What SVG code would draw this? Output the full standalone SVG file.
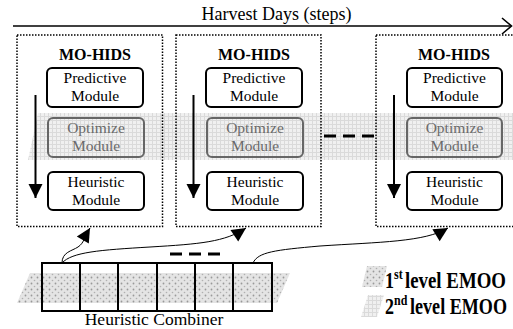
<svg xmlns="http://www.w3.org/2000/svg" width="513" height="329" viewBox="0 0 513 329">
<defs>
<style>
text{font-family:"Liberation Serif","Times New Roman",serif;fill:#000}
.hd{font-size:16px;font-weight:bold;text-anchor:middle}
.md{font-size:15.5px;text-anchor:middle}
.gm{fill:#6a6a6a}
.box{fill:none;stroke:#000;stroke-width:1.5;stroke-dasharray:1.5 1.5}
.mod{fill:#fff;stroke:#000;stroke-width:2}
.opt{fill:none;stroke:#666;stroke-width:2}
.cell{fill:none;stroke:#000;stroke-width:2}
.dn{stroke:#000;stroke-width:2;fill:none}
.cv{stroke:#000;stroke-width:1;fill:none}
.dash{stroke:#000;stroke-width:3;stroke-dasharray:12 7;fill:none}
.lg{font-size:18px;font-weight:bold}
</style>
<pattern id="p2" width="4" height="4" patternUnits="userSpaceOnUse">
<rect width="4" height="4" fill="#f0f0f0"/>
<path d="M0,0.5H4M0.5,0V4" stroke="#dadada" stroke-width="1"/>
</pattern>
<pattern id="p1" width="6" height="6" patternUnits="userSpaceOnUse">
<rect width="6" height="6" fill="#e4e4e4"/>
<circle cx="1.5" cy="1.5" r="0.9" fill="#999"/>
<circle cx="4.5" cy="4.5" r="0.8" fill="#b0b0b0"/>
</pattern>
<marker id="ah" markerUnits="userSpaceOnUse" markerWidth="15" markerHeight="15" refX="14" refY="7" orient="auto" overflow="visible">
<path d="M0,0 L14,7 L0,14 z" fill="#000"/>
</marker>
</defs>

<!-- shaded levels -->
<polygon id="band2" points="38,113 513,113 513,160 28,160" fill="url(#p2)"/>
<polygon id="band1" points="30,273 290,273 277,303 17,303" fill="url(#p1)"/>

<!-- title -->
<g id="title">
<text x="276.5" y="20" font-size="18" text-anchor="middle">Harvest Days (steps)</text>
<line x1="13" y1="26" x2="511" y2="26" stroke="#000" stroke-width="1.6"/>
<polyline points="502,18 511.5,26 502,34" fill="none" stroke="#000" stroke-width="1.6"/>
</g>

<g id="mohids1">
<rect class="box" x="17" y="35" width="145.5" height="191.5"/>
<text class="hd" x="95" y="60">MO-HIDS</text>
<rect class="mod" x="47" y="68" width="96" height="39" rx="5"/>
<text class="md" x="95" y="83">Predictive</text>
<text class="md" x="95" y="101">Module</text>
<rect class="opt" x="48" y="118" width="96" height="39" rx="5"/>
<text class="md gm" x="96" y="133">Optimize</text>
<text class="md gm" x="96" y="151">Module</text>
<rect class="mod" x="48" y="172" width="96" height="38" rx="5"/>
<text class="md" x="96" y="187">Heuristic</text>
<text class="md" x="96" y="205">Module</text>
</g>

<g id="mohids2">
<rect class="box" x="176" y="35" width="145" height="191.5"/>
<text class="hd" x="254" y="60">MO-HIDS</text>
<rect class="mod" x="206" y="68" width="96" height="39" rx="5"/>
<text class="md" x="254" y="83">Predictive</text>
<text class="md" x="254" y="101">Module</text>
<rect class="opt" x="207" y="118" width="96" height="39" rx="5"/>
<text class="md gm" x="255" y="133">Optimize</text>
<text class="md gm" x="255" y="151">Module</text>
<rect class="mod" x="207" y="172" width="96" height="38" rx="5"/>
<text class="md" x="255" y="187">Heuristic</text>
<text class="md" x="255" y="205">Module</text>
</g>

<g id="mohids3">
<rect class="box" x="376" y="35" width="150" height="191.5"/>
<text class="hd" x="454" y="60">MO-HIDS</text>
<rect class="mod" x="407" y="68" width="95" height="39" rx="5"/>
<text class="md" x="454.5" y="83">Predictive</text>
<text class="md" x="454.5" y="101">Module</text>
<rect class="opt" x="407" y="118" width="95" height="39" rx="5"/>
<text class="md gm" x="454.5" y="133">Optimize</text>
<text class="md gm" x="454.5" y="151">Module</text>
<rect class="mod" x="407" y="172" width="95" height="38" rx="5"/>
<text class="md" x="454.5" y="187">Heuristic</text>
<text class="md" x="454.5" y="205">Module</text>
</g>

<g id="combiner">
<rect class="cell" x="42" y="263" width="38" height="48"/>
<rect class="cell" x="80" y="263" width="38" height="48"/>
<rect class="cell" x="118" y="263" width="39" height="48"/>
<rect class="cell" x="157" y="263" width="38" height="48"/>
<rect class="cell" x="195" y="263" width="38" height="48"/>
<rect class="cell" x="233" y="263" width="39" height="48"/>
<text x="154" y="325" font-size="17.5" text-anchor="middle">Heuristic Combiner</text>
</g>

<g id="connectors">
<line class="dn" x1="35.5" y1="95" x2="35.5" y2="198" marker-end="url(#ah)"/>
<line class="dn" x1="193.5" y1="95" x2="193.5" y2="198" marker-end="url(#ah)"/>
<line class="dn" x1="394" y1="95" x2="394" y2="198" marker-end="url(#ah)"/>
<path class="cv" d="M62,263 C62,252 72,251 78,247 S84,238 90,228" marker-end="url(#ah)"/>
<path class="cv" d="M62,263 C72,252 100,250 150,247 C200,244 225,242 246,228" marker-end="url(#ah)"/>
<path class="cv" d="M253,263 C258,252 275,250 320,246 C380,242 425,242 448,228" marker-end="url(#ah)"/>
<line class="dash" x1="324" y1="136" x2="375" y2="136" stroke-width="2.5"/>
<line class="dash" x1="170" y1="254" x2="221" y2="254"/>
</g>

<g id="legend">
<polygon points="367,266 387,266 382,287 362,287" fill="url(#p1)"/>
<polygon points="368,295 384,295 377,317 361,317" fill="url(#p2)"/>
<g transform="translate(385,288) scale(1,1.25)">
<text class="lg" x="0" y="0">1<tspan font-size="12" dy="-7">st</tspan></text>
<text class="lg" x="20" y="0" textLength="101" lengthAdjust="spacingAndGlyphs">level EMOO</text>
</g>
<g transform="translate(385,314) scale(1,1.25)">
<text class="lg" x="0" y="0">2<tspan font-size="12" dy="-7">nd</tspan></text>
<text class="lg" x="25" y="0" textLength="97" lengthAdjust="spacingAndGlyphs">level EMOO</text>
</g>
</g>
</svg>
